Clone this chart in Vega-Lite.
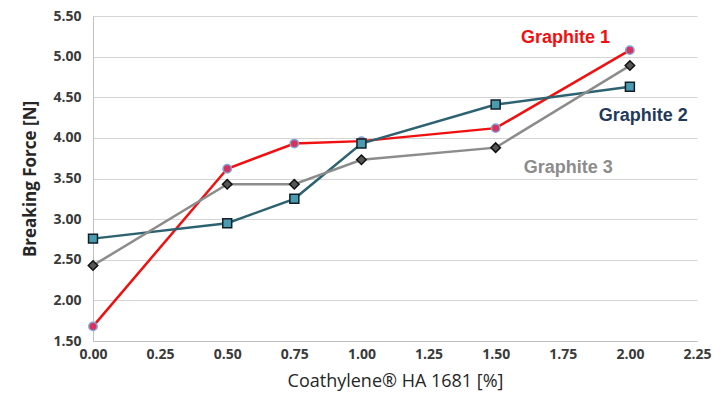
{
  "$schema": "https://vega.github.io/schema/vega-lite/v6.json",
  "width": 604,
  "height": 325,
  "autosize": {"type": "none"},
  "padding": {"left": 93, "top": 16, "right": 28, "bottom": 65},
  "background": "white",
  "config": {
    "view": {"stroke": null},
    "axis": {
      "labelFont": "Open Sans",
      "labelFontWeight": "bold",
      "labelFontSize": 14,
      "labelColor": "#3a3a3a",
      "titleFont": "Open Sans",
      "titleColor": "#262626",
      "domainColor": "#bfbfbf",
      "gridColor": "#d4d4d4",
      "ticks": false,
      "labelFlush": false
    }
  },
  "datasets": {
    "pts": [
      {"pct": 0.0, "force": 1.68, "series": "Graphite 1"},
      {"pct": 0.5, "force": 3.62, "series": "Graphite 1"},
      {"pct": 0.75, "force": 3.93, "series": "Graphite 1"},
      {"pct": 1.0, "force": 3.96, "series": "Graphite 1"},
      {"pct": 1.5, "force": 4.12, "series": "Graphite 1"},
      {"pct": 2.0, "force": 5.08, "series": "Graphite 1"},
      {"pct": 0.0, "force": 2.76, "series": "Graphite 2"},
      {"pct": 0.5, "force": 2.95, "series": "Graphite 2"},
      {"pct": 0.75, "force": 3.25, "series": "Graphite 2"},
      {"pct": 1.0, "force": 3.93, "series": "Graphite 2"},
      {"pct": 1.5, "force": 4.41, "series": "Graphite 2"},
      {"pct": 2.0, "force": 4.63, "series": "Graphite 2"},
      {"pct": 0.0, "force": 2.43, "series": "Graphite 3"},
      {"pct": 0.5, "force": 3.43, "series": "Graphite 3"},
      {"pct": 0.75, "force": 3.43, "series": "Graphite 3"},
      {"pct": 1.0, "force": 3.73, "series": "Graphite 3"},
      {"pct": 1.5, "force": 3.88, "series": "Graphite 3"},
      {"pct": 2.0, "force": 4.89, "series": "Graphite 3"}
    ],
    "labels": [
      {"pct": 1.76, "force": 5.23, "series": "Graphite 1"},
      {"pct": 2.05, "force": 4.27, "series": "Graphite 2"},
      {"pct": 1.77, "force": 3.63, "series": "Graphite 3"}
    ]
  },
  "layer": [
    {
      "data": {"name": "pts"},
      "mark": {"type": "line", "strokeWidth": 2.5},
      "encoding": {
        "x": {
          "field": "pct", "type": "quantitative",
          "scale": {"domain": [0, 2.25], "nice": false},
          "axis": {
            "values": [0, 0.25, 0.5, 0.75, 1, 1.25, 1.5, 1.75, 2, 2.25],
            "format": ".2f", "grid": false, "labelPadding": 6,
            "title": "Coathylene® HA 1681 [%]",
            "titleFontSize": 18, "titleFontWeight": "normal", "titlePadding": 11
          }
        },
        "y": {
          "field": "force", "type": "quantitative",
          "scale": {"domain": [1.5, 5.5], "nice": false, "zero": false},
          "axis": {
            "values": [1.5, 2, 2.5, 3, 3.5, 4, 4.5, 5, 5.5],
            "format": ".2f", "labelPadding": 12,
            "title": "Breaking Force [N]",
            "titleFontSize": 17, "titleFontWeight": "bold", "titlePadding": 13
          }
        },
        "color": {
          "field": "series", "type": "nominal",
          "scale": {"domain": ["Graphite 1", "Graphite 2", "Graphite 3"], "range": ["#f01010", "#2d6270", "#8c8c8c"]},
          "legend": null
        }
      }
    },
    {
      "data": {"name": "pts"},
      "mark": {"type": "point", "filled": true, "strokeWidth": 1.5, "opacity": 1},
      "encoding": {
        "x": {"field": "pct", "type": "quantitative"},
        "y": {"field": "force", "type": "quantitative"},
        "shape": {
          "field": "series", "type": "nominal",
          "scale": {"domain": ["Graphite 1", "Graphite 2", "Graphite 3"], "range": ["circle", "square", "diamond"]},
          "legend": null
        },
        "fill": {
          "field": "series", "type": "nominal",
          "scale": {"domain": ["Graphite 1", "Graphite 2", "Graphite 3"], "range": ["#d8325e", "#4a9ab0", "#555555"]},
          "legend": null
        },
        "stroke": {
          "field": "series", "type": "nominal",
          "scale": {"domain": ["Graphite 1", "Graphite 2", "Graphite 3"], "range": ["#7fa6dc", "#102028", "#111111"]},
          "legend": null
        },
        "size": {
          "field": "series", "type": "nominal",
          "scale": {"domain": ["Graphite 1", "Graphite 2", "Graphite 3"], "range": [70, 90, 55]},
          "legend": null
        }
      }
    },
    {
      "data": {"name": "labels"},
      "mark": {"type": "text", "font": "Liberation Sans", "fontWeight": "bold", "fontSize": 18, "align": "center", "baseline": "middle"},
      "encoding": {
        "x": {"field": "pct", "type": "quantitative"},
        "y": {"field": "force", "type": "quantitative"},
        "text": {"field": "series"},
        "color": {
          "field": "series", "type": "nominal",
          "scale": {"domain": ["Graphite 1", "Graphite 2", "Graphite 3"], "range": ["#f01010", "#1f3a5a", "#8c8c8c"]},
          "legend": null
        }
      }
    }
  ],
  "resolve": {"scale": {"color": "independent"}}
}
